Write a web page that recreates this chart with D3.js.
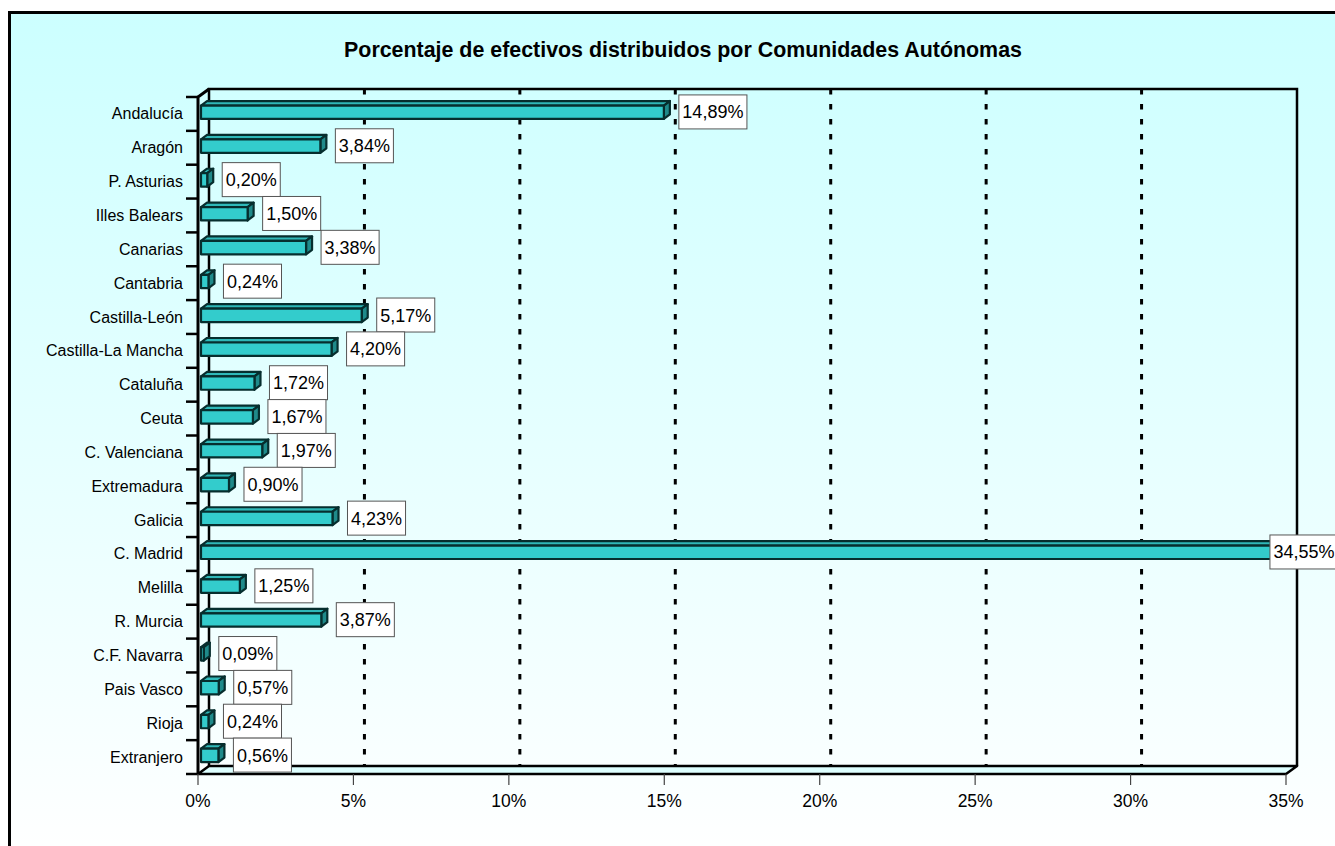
<!DOCTYPE html>
<html><head><meta charset="utf-8">
<script src="https://cdn.jsdelivr.net/npm/d3@7"></script>
<style>
body{margin:0;background:#fff;overflow:hidden}
svg{display:block}
text{font-family:"Liberation Sans",Arial,sans-serif;fill:#000}
</style>
</head><body><svg id="c" width="1335" height="846"></svg>
<script>
const title = "Porcentaje de efectivos distribuidos por Comunidades Autónomas";
const categories = ["Andalucía","Aragón","P. Asturias","Illes Balears","Canarias","Cantabria","Castilla-León","Castilla-La Mancha","Cataluña","Ceuta","C. Valenciana","Extremadura","Galicia","C. Madrid","Melilla","R. Murcia","C.F. Navarra","Pais Vasco","Rioja","Extranjero"];
const values = [14.89,3.84,0.20,1.50,3.38,0.24,5.17,4.20,1.72,1.67,1.97,0.90,4.23,34.55,1.25,3.87,0.09,0.57,0.24,0.56];
const xTicks = [0,5,10,15,20,25,30,35];

const locale = d3.formatLocale({decimal:",",thousands:".",grouping:[3],currency:["","€"]});
const fmt = locale.format(".2f");

const svg = d3.select("#c");

// background with vertical gradient
const defs = svg.append("defs");
const g1 = defs.append("linearGradient").attr("id","bg").attr("x1",0).attr("y1",0).attr("x2",0).attr("y2",1);
g1.append("stop").attr("offset","0%").attr("stop-color","#CCFFFF");
g1.append("stop").attr("offset","100%").attr("stop-color","#FFFFFF");
svg.append("rect").attr("x",9.5).attr("y",12.5).attr("width",1400).attr("height",850)
  .attr("fill","url(#bg)").attr("stroke","#000").attr("stroke-width",3);

// scales
const x = d3.scaleLinear().domain([0,35]).range([198,1286]);
const y = d3.scaleBand().domain(categories).range([97,774]).padding(0);
const DX = 11, DY = -8;
const yTop = y.range()[0], yBot = y.range()[1];

// title
svg.append("text").attr("x",683).attr("y",57).attr("text-anchor","middle")
  .style("font-weight","bold").style("font-size","21.4px").text(title);

// back wall gridlines (dashed)
svg.append("g").selectAll("line").data(xTicks.filter(v=>v>0 && v<35)).join("line")
  .attr("x1",d=>x(d)+DX).attr("x2",d=>x(d)+DX).attr("y1",yTop+DY).attr("y2",yBot+DY)
  .attr("stroke","#000").attr("stroke-width",3).attr("stroke-dasharray","5.5,9.5");

// back wall frame
const xb0 = x(0)+DX, xb1 = x(35)+DX;
svg.append("path").attr("d",`M${xb0},${yBot+DY}V${yTop+DY}H${xb1}V${yBot+DY}`)
  .attr("fill","none").attr("stroke","#000").attr("stroke-width",2.5);

// floor
svg.append("path").attr("d",`M${x(0)},${yBot}H${x(35)}L${x(35)+DX},${yBot+DY}H${xb0}Z`)
  .attr("fill","#DDFFFF").attr("stroke","#000").attr("stroke-width",2.5).attr("stroke-linejoin","round");

// left (category) axis front line + diagonal
svg.append("path").attr("d",`M${x(0)},${yBot}V${yTop}L${xb0},${yTop+DY}`)
  .attr("fill","none").attr("stroke","#000").attr("stroke-width",3);

// category ticks
const bounds = d3.range(categories.length+1).map(i=>yTop + i*y.step());
svg.append("g").selectAll("line").data(bounds).join("line")
  .attr("x1",186).attr("x2",x(0)).attr("y1",d=>d).attr("y2",d=>d)
  .attr("stroke","#000").attr("stroke-width",2.5);

// category labels
svg.append("g").selectAll("text").data(categories).join("text")
  .attr("x",183).attr("y",d=>y(d)+y.bandwidth()/2+5.5).attr("text-anchor","end")
  .style("font-size","16px").text(d=>d);

// x axis ticks + labels
svg.append("g").selectAll("line").data(xTicks).join("line")
  .attr("x1",d=>x(d)).attr("x2",d=>x(d)).attr("y1",yBot).attr("y2",yBot+11)
  .attr("stroke","#444").attr("stroke-width",1.2);
svg.append("g").selectAll("text").data(xTicks).join("text")
  .attr("x",d=>x(d)).attr("y",807).attr("text-anchor","middle")
  .style("font-size","17.5px").text(d=>d+"%");

// bars (3D)
const bdx = 6, bdy = -4.5, off = 3;
const bars = svg.append("g").selectAll("g").data(categories.map((c,i)=>({c,v:values[i]}))).join("g");
bars.each(function(d){
  const g = d3.select(this);
  const yc = y(d.c)+y.bandwidth()/2;
  const ft = yc-8.4, fb = yc+5;
  const x0 = x(0)+off, x1 = x(d.v)+off;
  const st = {"stroke":"#062e2e","stroke-width":2.2,"stroke-linejoin":"round"};
  const apply = sel => { for (const k in st) sel.attr(k, st[k]); return sel; };
  apply(g.append("path").attr("d",`M${x0},${ft}L${x1},${ft}L${x1+bdx},${ft+bdy}L${x0+bdx},${ft+bdy}Z`).attr("fill","#2fb8b8"));
  apply(g.append("path").attr("d",`M${x1},${ft}L${x1+bdx},${ft+bdy}L${x1+bdx},${fb+bdy}L${x1},${fb}Z`).attr("fill","#1f8a8a"));
  apply(g.append("rect").attr("x",x0).attr("y",ft).attr("width",Math.max(0,x1-x0)).attr("height",fb-ft).attr("fill","#33CCCC"));
});

// value labels
const lab = svg.append("g");
categories.forEach((c,i)=>{
  const v = values[i];
  const yc = y(c)+y.bandwidth()/2 - 2;
  const gg = lab.append("g");
  const rect = gg.append("rect");
  const t = gg.append("text").style("font-size","18px").attr("y",yc+6.5).text(fmt(v)+"%");
  const tw = t.node().getComputedTextLength();
  const bw = tw+7, bh = 34;
  let lx = x(v)+off+15;
  if (lx+bw > 1338) lx = 1338-bw;
  t.attr("x",lx+3.5);
  rect.attr("x",lx).attr("y",yc-bh/2).attr("width",bw).attr("height",bh)
    .attr("fill","#fff").attr("stroke","#555").attr("stroke-width",1);
});
</script>
</body></html>
